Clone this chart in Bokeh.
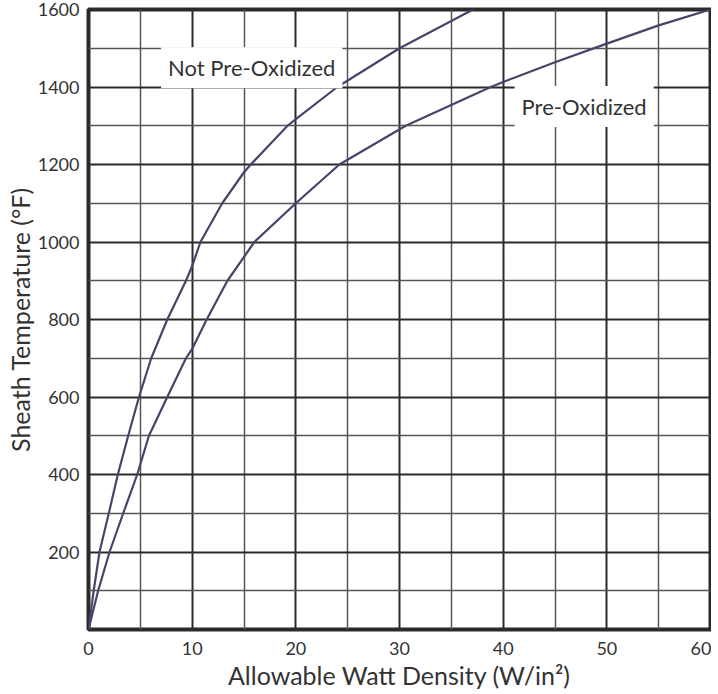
from bokeh.plotting import figure
from bokeh.models import FixedTicker, Label
from bokeh.embed import file_html
from bokeh.resources import INLINE

# Data
not_pre_x = [0, 0.5, 1.06, 1.96, 2.83, 3.83, 4.87, 6.05, 7.6, 9.4, 10.0, 10.8, 12.9, 15.0, 15.65, 19.2, 20.0, 24.0, 30.0, 37.1]
not_pre_y = [0, 100, 200, 300, 400, 500, 600, 700, 800, 900, 938, 1000, 1100, 1180, 1200, 1300, 1317, 1400, 1500, 1600]

pre_x = [0, 0.93, 2.03, 3.35, 4.7, 5.83, 7.6, 9.4, 10.0, 11.4, 13.4, 16.0, 20.0, 24.2, 30.6, 38.8, 40, 45, 50, 55, 60]
pre_y = [0, 100, 200, 300, 400, 500, 600, 700, 724, 800, 900, 1000, 1100, 1200, 1300, 1400, 1413, 1464, 1512, 1559, 1600]

x_ticks = [0, 10, 20, 30, 40, 50, 60]
x_minor = [5, 15, 25, 35, 45, 55]
y_ticks = [200, 400, 600, 800, 1000, 1200, 1400, 1600]
y_minor = [100, 300, 500, 700, 900, 1100, 1300, 1500]

FONT = "Lato"
TXT = "#333333"
LINE = "#45456b"

p = figure(width=711, height=692, output_backend="svg", toolbar_location=None,
           x_range=(0, 60), y_range=(0, 1600),
           min_border_left=88, min_border_right=1, min_border_top=9, min_border_bottom=60)

p.line(not_pre_x, not_pre_y, line_color=LINE, line_width=2.2)
p.line(pre_x, pre_y, line_color=LINE, line_width=2.2)

p.xaxis.ticker = FixedTicker(ticks=x_ticks, minor_ticks=x_minor)
p.yaxis.ticker = FixedTicker(ticks=y_ticks, minor_ticks=y_minor)

for g in (p.xgrid, p.ygrid):
    g.grid_line_color = "#2a2a2a"
    g.grid_line_width = 2
    g.minor_grid_line_color = "#555555"
    g.minor_grid_line_width = 1.5

p.outline_line_color = "#2a2a2a"
p.outline_line_width = 4
p.outline_line_alpha = 1

for ax in (p.xaxis, p.yaxis):
    ax.axis_line_color = None
    ax.major_tick_line_color = None
    ax.minor_tick_line_color = None
    ax.major_tick_out = 0
    ax.minor_tick_out = 0
    ax.major_tick_in = 0
    ax.minor_tick_in = 0
    ax.major_label_text_font = FONT
    ax.major_label_text_font_size = "18px"
    ax.major_label_text_color = TXT
    ax.axis_label_text_font = FONT
    ax.axis_label_text_font_style = "normal"
    ax.axis_label_text_color = TXT

p.xaxis.axis_label_text_font_size = "25px"
p.yaxis.axis_label_text_font_size = "25px"
p.xaxis.axis_label = "Allowable Watt Density (W/in²)"
p.yaxis.axis_label = "Sheath Temperature (°F)"
p.xaxis.major_label_standoff = 12
p.xaxis.axis_label_standoff = 2
p.yaxis.major_label_standoff = 9
p.yaxis.axis_label_standoff = 0

p.add_layout(Label(x=7.0, y=1450, text="Not Pre-Oxidized", text_align="left", text_baseline="middle",
                   text_font=FONT, text_font_size="22px", text_color=TXT,
                   background_fill_color="white", background_fill_alpha=1.0, padding=7))
p.add_layout(Label(x=41.1, y=1350, text="Pre-Oxidized", text_align="left", text_baseline="middle",
                   text_font=FONT, text_font_size="22px", text_color=TXT,
                   background_fill_color="white", background_fill_alpha=1.0, padding=7))

open("out.html", "w").write(file_html(p, INLINE))
